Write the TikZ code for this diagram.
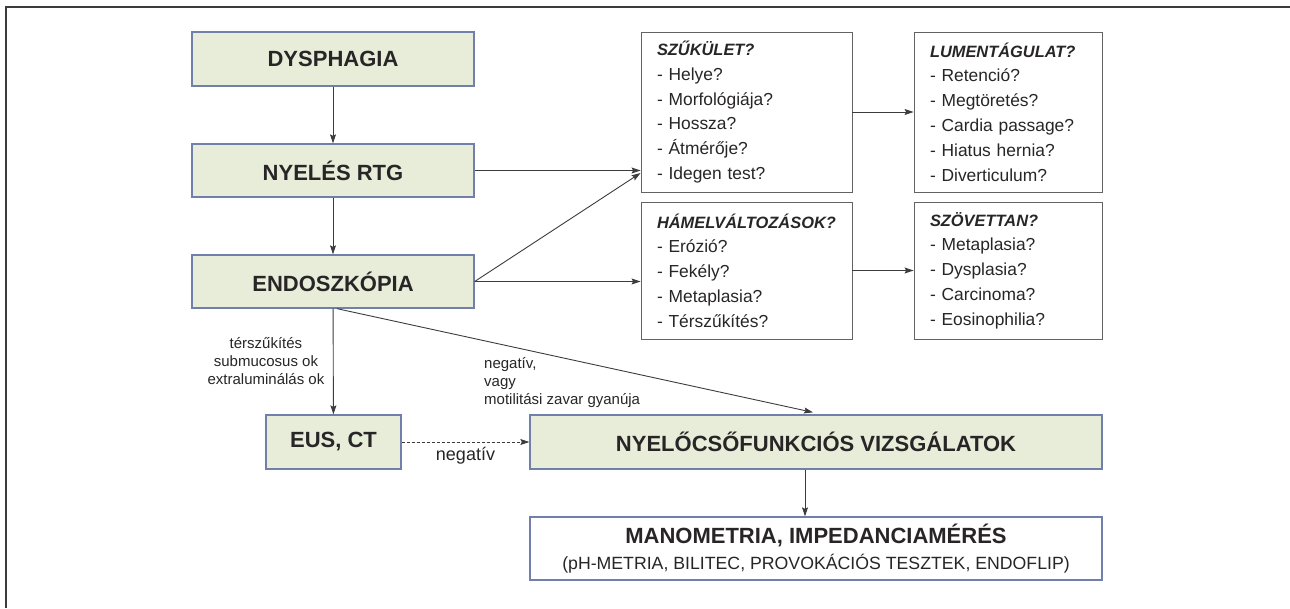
\documentclass[tikz,border=0pt]{standalone}
\usepackage{fontspec}
\setmainfont{Liberation Sans}
\usetikzlibrary{arrows.meta,positioning}
\definecolor{boxgreen}{RGB}{232,237,218}
\definecolor{boxblue}{RGB}{112,128,170}
\definecolor{ink}{RGB}{40,37,38}
\definecolor{linegray}{RGB}{60,60,60}
\newcommand{\askhead}[1]{{\fontsize{16.4}{24.8}\selectfont\bfseries\itshape #1}}

\begin{document}
\begin{tikzpicture}[x=1pt,y=-1pt,
	step box/.style={draw=boxblue,line width=1.3pt,fill=boxgreen,inner sep=0pt,text=ink,font=\fontsize{22}{26}\selectfont\bfseries},
	ask box/.style={draw=linegray!80,line width=0.9pt,inner xsep=16pt,inner ysep=0pt,text=ink,align=left,font=\fontsize{17.4}{24.8}\selectfont},
	arr/.style={draw=linegray,line width=0.9pt,-{Stealth[length=9pt,width=6pt,inset=1.5pt]}},
	note/.style={text=ink,inner sep=0pt,font=\fontsize{15}{18}\selectfont}]
	\useasboundingbox (0,0) rectangle (1290,608);
	\draw[linegray,line width=1.4pt] (6,608) -- (6,7) -- (1290,7);
	
	% left column
	\node[step box,minimum width=282pt,minimum height=54pt] (dys) at (333,59) {DYSPHAGIA};
	\node[step box,minimum width=282pt,minimum height=53pt] (rtg) at (333,170.5) {NYELÉS RTG};
	\node[step box,minimum width=282pt,minimum height=53pt] (endo) at (333,281.5) {ENDOSZKÓPIA};
	\node[step box,minimum width=135pt,minimum height=54pt] (eus) at (333.5,442) {EUS, CT};
	\node[step box,minimum width=572pt,minimum height=54pt] (nyel) at (816,442) {NYELŐCSŐFUNKCIÓS VIZSGÁLATOK};
	\node[step box,fill=white,minimum width=572pt,minimum height=63pt,align=center] (mano) at (816,548.5)
		{MANOMETRIA, IMPEDANCIAMÉRÉS\\\fontsize{17.7}{26}\selectfont\mdseries (pH-METRIA, BILITEC, PROVOKÁCIÓS TESZTEK, ENDOFLIP)};
	
	% question boxes
	\node[ask box,text width=179pt,minimum height=160pt] (szuk) at (746.5,112)
		{\askhead{SZŰKÜLET?}\\- Helye?\\- Morfológiája?\\- Hossza?\\- Átmérője?\\- Idegen test?};
	\node[ask box,text width=179pt,minimum height=137pt] (hamel) at (746.5,270.5)
		{\askhead{HÁMELVÁLTOZÁSOK?}\\- Erózió?\\- Fekély?\\- Metaplasia?\\- Térszűkítés?};
	\node[ask box,text width=156pt,minimum height=160pt] (lumen) at (1008,112)
		{\askhead{LUMENTÁGULAT?}\\- Retenció?\\- Megtöretés?\\- Cardia passage?\\- Hiatus hernia?\\- Diverticulum?};
	\node[ask box,text width=156pt,minimum height=137pt] (szov) at (1008,270.5)
		{\askhead{SZÖVETTAN?}\\- Metaplasia?\\- Dysplasia?\\- Carcinoma?\\- Eosinophilia?};
	
	% connectors
	\draw[arr] (dys) -- (rtg);
	\draw[arr] (rtg) -- (endo);
	\draw[arr] (rtg.east) -- (rtg.east -| szuk.west);
	\draw[arr] (endo.east) -- ([yshift=-61pt]szuk.west);
	\draw[arr] (endo.east) -- (endo.east -| hamel.west);
	\draw[arr] (szuk) -- (lumen);
	\draw[arr] (hamel) -- (szov);
	\draw[arr] (endo) -- node[note,midway,left=8.5pt,align=center] (okok) {térszűkítés\\submucosus ok\\extraluminálás ok} (eus);
	\draw[arr] ([xshift=4pt]endo.south) -- ([xshift=-3pt,yshift=2pt]nyel.north);
	\node[note,anchor=west,align=left] (negvagy) at (484,383) {negatív,\\vagy\\motilitási zavar gyanúja};
	\draw[arr,dashed,dash pattern=on 3pt off 2pt] (eus) -- node[note,below=5pt,font=\fontsize{18}{20}\selectfont] (neg) {negatív} (nyel);
	\draw[arr] ([xshift=-11pt]nyel.south) -- ([xshift=-11pt]mano.north);
\end{tikzpicture}
\end{document}
